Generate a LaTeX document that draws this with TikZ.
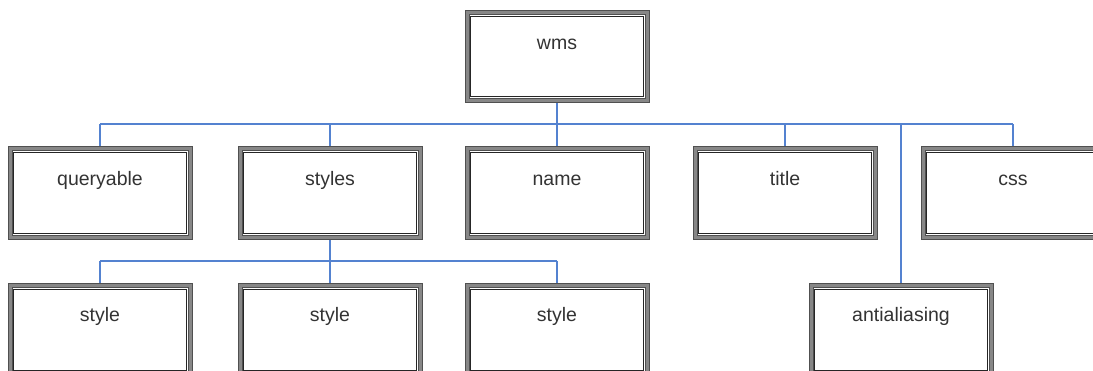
\documentclass[tikz,border=0pt]{standalone}
\usepackage{fontspec}
\setmainfont{Liberation Sans}
\usetikzlibrary{calc}
\definecolor{conn}{RGB}{84,130,208}
\definecolor{bandout}{RGB}{80,80,80}
\definecolor{bandin}{RGB}{135,135,135}
\tikzset{
  box/.style={rectangle, draw=bandout, line width=1pt, double=bandin, double distance=3pt,
    minimum width=180pt, minimum height=89pt, inner sep=0pt, outer sep=2.5pt, fill=white,
    path picture={\draw[black!85, line width=0.9pt]
      ([shift={(3.6pt,-3.6pt)}]path picture bounding box.north west) rectangle
      ([shift={(-3.6pt,3.6pt)}]path picture bounding box.south east);}},
  lbl/.style={anchor=base, inner sep=0pt, font=\fontsize{19.5pt}{22pt}\selectfont, text=black!80},
  link/.style={draw=conn, line width=1.6pt}
}
\begin{document}
\begin{tikzpicture}[x=1pt,y=-1pt]
\useasboundingbox (0,0) rectangle (1093,371);
\clip (0,0) rectangle (1093,371);
% boxes
\node[box, minimum height=88pt] (wms) at (557,56.5) {};
\node[box] (q) at (100,193) {};
\node[box] (s) at (330,193) {};
\node[box] (n) at (557,193) {};
\node[box] (t) at (785,193) {};
\node[box] (c) at (1013,193) {};
\node[box] (s1) at (100,330) {};
\node[box] (s2) at (330,330) {};
\node[box] (s3) at (557,330) {};
\node[box] (a) at (901,330) {};
% labels
\node[lbl] (lwms) at ($(wms.north)+(0,40)$) {wms};
\node[lbl] (lq) at ($(q.north)+(0,40)$) {queryable};
\node[lbl] (ls) at ($(s.north)+(0,40)$) {styles};
\node[lbl] (ln) at ($(n.north)+(0,40)$) {name};
\node[lbl] (lt) at ($(t.north)+(0,40)$) {title};
\node[lbl] (lc) at ($(c.north)+(0,40)$) {css};
\node[lbl] (ls1) at ($(s1.north)+(0,39)$) {style};
\node[lbl] (ls2) at ($(s2.north)+(0,39)$) {style};
\node[lbl] (ls3) at ($(s3.north)+(0,39)$) {style};
\node[lbl] (la) at ($(a.north)+(0,39)$) {antialiasing};
% connectors
\coordinate (bus) at (0,124);
\coordinate (bus2) at (0,261);
\draw[link] (wms.south) -- (wms.south |- bus);
\draw[link] (q.north |- bus) -- (c.north |- bus);
\draw[link] (q.north) -- (q.north |- bus);
\draw[link] (s.north) -- (s.north |- bus);
\draw[link] (n.north) -- (n.north |- bus);
\draw[link] (t.north) -- (t.north |- bus);
\draw[link] (c.north) -- (c.north |- bus);
\draw[link] (a.north) -- (a.north |- bus);
\draw[link] (s.south) -- (s.south |- bus2);
\draw[link] (s1.north |- bus2) -- (s3.north |- bus2);
\draw[link] (s1.north) -- (s1.north |- bus2);
\draw[link] (s2.north) -- (s2.north |- bus2);
\draw[link] (s3.north) -- (s3.north |- bus2);
\end{tikzpicture}
\end{document}
